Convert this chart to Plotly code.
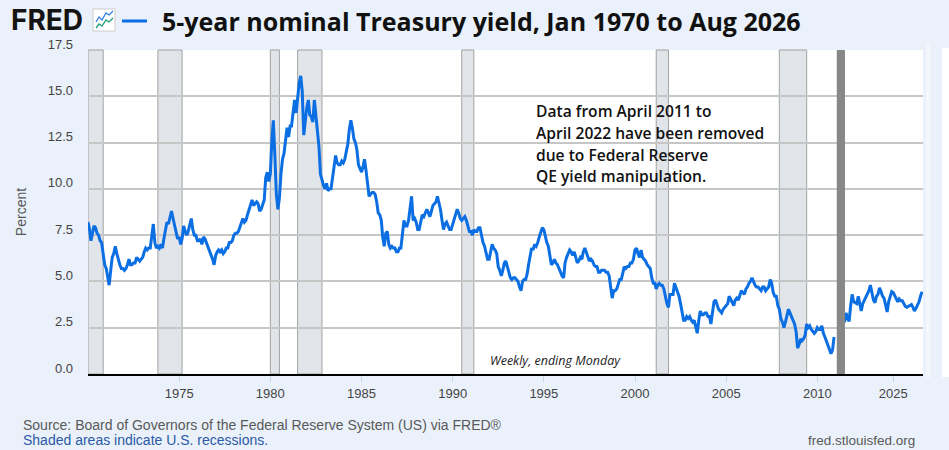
import plotly.graph_objects as go
import pandas as pd

# ---------------- data (monthly readings of the weekly series) ----------------
yields_1970s = [
    8.2, 7.8, 7.2, 7.6, 8.0, 7.9, 7.6, 7.5, 7.2, 7.1, 6.4, 5.9,
    5.7, 5.3, 4.8, 5.6, 6.3, 6.5, 6.9, 6.5, 6.1, 5.9, 5.7, 5.7,
    5.6, 5.7, 5.9, 6.2, 5.9, 5.9, 6.0, 6.0, 6.3, 6.2, 6.1, 6.2,
    6.3, 6.6, 6.8, 6.7, 6.8, 6.8, 7.4, 8.1, 7.1, 6.8, 6.9, 6.8,
    7.0, 6.8, 7.3, 7.9, 8.2, 8.1, 8.4, 8.8, 8.4, 8.0, 7.7, 7.3,
    7.4, 7.0, 7.3, 8.0, 7.7, 7.5, 7.7, 8.0, 8.4, 7.8, 7.5, 7.5,
    7.2, 7.2, 7.3, 7.0, 7.4, 7.3, 7.1, 6.9, 6.7, 6.5, 6.2, 5.9,
    6.4, 6.6, 6.7, 6.6, 6.7, 6.5, 6.6, 6.8, 6.8, 7.1, 7.1, 7.2,
    7.5, 7.6, 7.6, 7.7, 7.9, 8.2, 8.4, 8.2, 8.3, 8.6, 8.9, 9.1,
    9.4, 9.1, 9.2, 9.3, 9.2, 8.8, 8.9, 9.1, 9.4, 10.6, 10.9, 10.4,
]
yields_1980s = [
    10.8, 12.6, 13.7, 11.8, 9.7, 8.9, 9.5, 10.8, 11.6, 11.9, 12.8, 13.3,
    12.8, 13.4, 13.4, 14.1, 14.8, 14.1, 14.9, 15.7, 16.1, 15.3, 12.9, 13.7,
    14.4, 14.8, 14.0, 13.9, 13.6, 14.8, 14.0, 13.1, 12.3, 10.8, 10.4, 10.2,
    10.0, 10.3, 9.9, 10.0, 10.0, 10.7, 11.3, 11.8, 11.4, 11.3, 11.3, 11.5,
    11.4, 11.6, 12.0, 12.4, 13.2, 13.7, 13.3, 12.7, 12.5, 12.1, 11.3, 11.1,
    10.9, 11.2, 11.6, 11.0, 10.3, 9.6, 9.7, 9.8, 9.8, 9.7, 9.3, 8.7,
    8.6, 8.3, 7.4, 6.9, 7.6, 7.7, 7.0, 6.8, 6.9, 6.8, 6.8, 6.6,
    6.6, 6.8, 6.8, 7.6, 8.3, 8.0, 8.0, 8.3, 9.0, 9.6, 8.3, 8.4,
    8.2, 7.8, 7.8, 8.2, 8.6, 8.5, 8.7, 8.9, 8.7, 8.5, 8.8, 9.1,
    9.2, 9.3, 9.6, 9.3, 8.9, 8.3, 7.8, 8.1, 8.2, 8.0, 7.8, 7.8,
]
yields_1990s = [
    8.1, 8.4, 8.6, 8.9, 8.7, 8.4, 8.3, 8.4, 8.5, 8.3, 8.0, 7.7,
    7.7, 7.5, 7.8, 7.7, 7.7, 7.9, 7.9, 7.4, 7.1, 6.9, 6.6, 6.2,
    6.2, 6.6, 7.0, 6.8, 6.7, 6.5, 5.8, 5.6, 5.3, 5.6, 6.0, 6.1,
    5.8, 5.4, 5.2, 5.1, 5.2, 5.2, 5.1, 5.0, 4.7, 4.5, 5.0, 5.1,
    5.1, 5.4, 5.9, 6.5, 6.8, 6.7, 7.0, 6.9, 7.1, 7.4, 7.7, 7.9,
    7.8, 7.4, 7.1, 6.9, 6.4, 5.9, 6.0, 6.2, 6.0, 5.9, 5.7, 5.5,
    5.3, 5.2, 6.0, 6.3, 6.5, 6.7, 6.6, 6.4, 6.6, 6.3, 6.0, 6.1,
    6.3, 6.2, 6.6, 6.8, 6.6, 6.4, 6.1, 6.2, 6.1, 5.9, 5.8, 5.8,
    5.5, 5.5, 5.6, 5.6, 5.6, 5.5, 5.5, 5.3, 4.6, 4.1, 4.5, 4.5,
    4.6, 4.9, 5.1, 5.1, 5.4, 5.8, 5.7, 5.8, 5.8, 6.0, 6.0, 6.2,
]
yields_2000s = [
    6.7, 6.8, 6.5, 6.3, 6.7, 6.3, 6.2, 6.1, 5.9, 5.8, 5.7, 5.2,
    4.9, 4.9, 4.6, 4.8, 4.9, 4.8, 4.8, 4.6, 4.1, 3.8, 3.6, 4.3,
    4.3, 4.3, 4.9, 4.7, 4.5, 4.2, 3.8, 3.3, 2.9, 2.9, 3.1, 3.0,
    3.1, 2.9, 2.8, 2.9, 2.5, 2.2, 2.9, 3.4, 3.2, 3.2, 3.3, 3.3,
    3.1, 3.1, 2.7, 3.4, 3.9, 4.0, 3.7, 3.5, 3.4, 3.3, 3.5, 3.6,
    3.7, 3.8, 4.2, 4.0, 3.8, 3.7, 4.0, 4.1, 4.0, 4.3, 4.5, 4.4,
    4.3, 4.6, 4.7, 4.9, 5.0, 5.2, 5.0, 4.8, 4.7, 4.7, 4.6, 4.5,
    4.7, 4.7, 4.5, 4.6, 4.7, 5.1, 4.9, 4.4, 4.2, 4.2, 3.7, 3.5,
    3.0, 2.8, 2.5, 2.8, 3.2, 3.5, 3.3, 3.1, 2.9, 2.7, 2.3, 1.4,
    1.6, 1.9, 1.8, 1.9, 2.1, 2.7, 2.5, 2.6, 2.4, 2.3, 2.2, 2.3,
    2.5, 2.4, 2.4, 2.6, 2.2, 2.0, 1.8, 1.5, 1.4, 1.1, 1.3, 2.0,
]
yields_2022_2026 = [
    2.8, 3.3, 3.0, 2.85, 3.7, 4.3, 3.9, 3.85,
    3.8, 4.2, 3.8, 3.4, 3.8, 4.0, 4.2, 4.4, 4.5, 4.8, 4.4, 4.0,
    3.85, 4.2, 4.3, 4.65, 4.45, 4.2, 4.1, 3.7, 3.35, 3.9, 4.2, 4.45,
    4.4, 4.2, 4.05, 3.9, 4.05, 3.95, 3.95, 3.8, 3.65, 3.6, 3.65, 3.7,
    3.75, 3.6, 3.4, 3.55, 3.7, 3.9, 4.2, 4.45,
]
pre_start = "1970-01-01"
post_start = "2022-05-01"

recessions = [
    ("1970-01-01", "1970-11-01"),
    ("1973-11-01", "1975-03-01"),
    ("1980-01-01", "1980-07-01"),
    ("1981-07-01", "1982-11-01"),
    ("1990-07-01", "1991-03-01"),
    ("2001-03-01", "2001-11-01"),
    ("2007-12-01", "2009-06-01"),
]
removed_span = ("2011-03-01", "2022-01-01")   # axis break
removed_bar = ("2011-01-25", "2022-05-10")    # dark marker over the break
x_range = ["1970-01-01", "2026-08-20"]
x_tick_years = [1975, 1980, 1985, 1990, 1995, 2000, 2005, 2010, 2025]
y_ticks = [0, 2.5, 5, 7.5, 10, 12.5, 15, 17.5]

title_text = "5-year nominal Treasury yield, Jan 1970 to Aug 2026"
note_lines = ["Data from April 2011 to", "April 2022 have been removed",
              "due to Federal Reserve", "QE yield manipulation."]

# ---------------- figure ----------------
W, H = 949, 450
L, R, T, B = 88, 26, 50, 76
BG = "#eaf1fa"
LINE = "#0b6fe3"


def px(x):
    return (x - L) / (W - L - R)


def py(y):
    return (H - B - y) / (H - T - B)


pre_vals = yields_1970s + yields_1980s + yields_1990s + yields_2000s
pre_dates = pd.date_range(pre_start, periods=len(pre_vals), freq="MS")
post_dates = pd.date_range(post_start, periods=len(yields_2022_2026), freq="MS")

fig = go.Figure()
for d, v in ((pre_dates, pre_vals), (post_dates, yields_2022_2026)):
    fig.add_trace(go.Scatter(x=d, y=v, mode="lines", showlegend=False,
                             line=dict(color=LINE, width=3), hoverinfo="skip"))

for a, b in recessions:
    fig.add_vrect(x0=a, x1=b, fillcolor="#e1e5ea", opacity=1, layer="below",
                  line=dict(color="#a2a2a2", width=1))
fig.add_vrect(x0=removed_bar[0], x1=removed_bar[1], fillcolor="#878787",
              opacity=1, layer="above", line_width=0)

tick_dates = [f"{y}-01-01" for y in x_tick_years]
fig.update_xaxes(
    type="date", range=x_range,
    rangebreaks=[dict(bounds=list(removed_span))],
    tickvals=tick_dates, ticktext=[str(y) for y in x_tick_years],
    showgrid=False, showline=True, linecolor="#000000", linewidth=2,
    ticks="outside", ticklen=6, tickwidth=1, tickcolor="#c8d5e8",
    tickfont=dict(family="Liberation Sans, Arial", size=13, color="#444444"),
    zeroline=False,
)
fig.update_yaxes(
    range=[0, 17.5], tickvals=y_ticks, tickformat=".1f",
    showgrid=True, gridcolor="#c6c6c6", gridwidth=1.6,
    zeroline=False, showline=False, ticks="",
    ticklabelshift=-6, ticklabelstandoff=14,
    tickfont=dict(family="Liberation Sans, Arial", size=13, color="#444444"),
    title=dict(text="Percent", standoff=17,
               font=dict(family="Liberation Sans, Arial", size=14, color="#595959")),
)

shapes = []
# FRED logo icon
shapes.append(dict(type="rect", xref="paper", yref="paper",
                   x0=px(93), x1=px(115), y0=py(31), y1=py(9),
                   fillcolor="#ffffff", line=dict(color="#cccccc", width=1)))


def path(points):
    return "M " + " L ".join(f"{px(a)},{py(b)}" for a, b in points)


shapes.append(dict(type="path", xref="paper", yref="paper",
                   path=path([(96, 22), (99, 17), (102, 20), (106, 13), (109, 15), (113, 11)]),
                   line=dict(color="#2f7fe0", width=1.3)))
shapes.append(dict(type="path", xref="paper", yref="paper",
                   path=path([(96, 28), (99, 24), (102, 26), (106, 20), (109, 22), (113, 18)]),
                   line=dict(color="#1f9e77", width=1.3)))
# legend swatch
shapes.append(dict(type="line", xref="paper", yref="paper",
                   x0=px(122), x1=px(147), y0=py(21), y1=py(21),
                   line=dict(color=LINE, width=3)))
# right-edge strips
shapes.append(dict(type="rect", xref="paper", yref="paper", layer="below",
                   x0=px(926), x1=px(930), y0=py(378), y1=py(42),
                   fillcolor="#f3f7fc", line_width=0))
shapes.append(dict(type="rect", xref="paper", yref="paper", layer="below",
                   x0=px(942), x1=px(949), y0=py(377), y1=py(48),
                   fillcolor="#ffffff", line_width=0))
for s in shapes:
    fig.add_shape(**s)

ann = [
    dict(text="<b>FRED</b>", x=px(9), y=py(20), xanchor="left", yanchor="middle",
         font=dict(family="Inter", size=28, color="#141414", weight=900)),
    dict(text=title_text, x=px(160), y=py(21), xanchor="left", yanchor="middle",
         font=dict(family="Open Sans", size=25, color="#111111", weight="bold")),
    dict(text="<i>Weekly, ending Monday</i>", x=px(488), y=py(360), xanchor="left",
         yanchor="middle", font=dict(family="Open Sans", size=12.5, color="#222222")),
    dict(text="Source: Board of Governors of the Federal Reserve System (US) via FRED®",
         x=px(21), y=py(425), xanchor="left", yanchor="middle",
         font=dict(family="Liberation Sans, Arial", size=14, color="#595959")),
    dict(text="Shaded areas indicate U.S. recessions.", x=px(21), y=py(440),
         xanchor="left", yanchor="middle",
         font=dict(family="Liberation Sans, Arial", size=14, color="#2b5aa6")),
    dict(text="fred.stlouisfed.org", x=px(917), y=py(440), xanchor="right",
         yanchor="middle",
         font=dict(family="Liberation Sans, Arial", size=13.5, color="#595959")),
]
for i, line in enumerate(note_lines):
    ann.append(dict(text=line, x=px(534), y=py(111.5 + 21.5 * i), xanchor="left",
                    yanchor="middle",
                    font=dict(family="Open Sans", size=15.6, color="#111111", weight=600)))
for a in ann:
    fig.add_annotation(xref="paper", yref="paper", showarrow=False, **a)

fig.update_layout(
    width=W, height=H, margin=dict(l=L, r=R, t=T, b=B, pad=0),
    paper_bgcolor=BG, plot_bgcolor="#ffffff",
    showlegend=False,
)

fig.write_html("out.html", config={"displayModeBar": False},
               post_script="document.body.style.margin='0px';")
